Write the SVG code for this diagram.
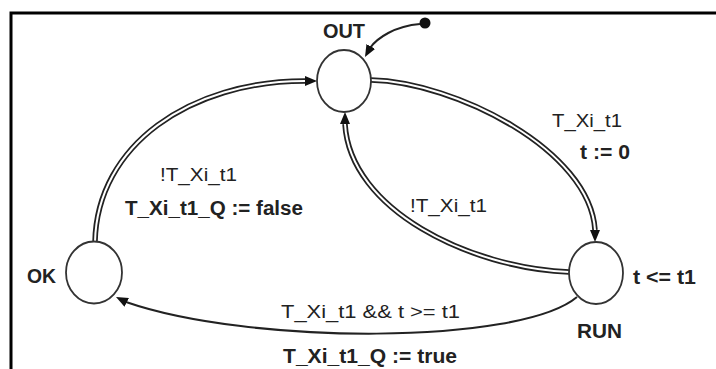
<svg xmlns="http://www.w3.org/2000/svg" width="716" height="369" viewBox="0 0 716 369">
<defs>
<marker id="arr" markerUnits="userSpaceOnUse" markerWidth="12" markerHeight="10" viewBox="0 0 12 10" refX="12" refY="5" orient="auto">
<path d="M0,0 L12,5 L0,10 z" fill="#111"/>
</marker>
<style>
.state{fill:#fff;stroke:#333;stroke-width:1.8}
.outer{fill:none;stroke:#222;stroke-width:5.5}
.inner{fill:none;stroke:#fff;stroke-width:2}
.single{fill:none;stroke:#222;stroke-width:2}
.tip{fill:none;stroke:none;marker-end:url(#arr)}
.lbl{font-family:"Liberation Sans",Arial,sans-serif;font-size:19px;fill:#222}
.b{font-weight:bold;font-size:20px}
</style>
</defs>
<rect width="716" height="369" fill="#fff"/>
<rect x="11" y="13" width="720" height="370" fill="none" stroke="#000" stroke-width="3"/>
<g id="connectors">
<g id="e-ok-out">
<path class="outer" d="M95 242 C97 145 190 81 305 81"/>
<path class="inner" d="M95 242 C97 145 190 81 305 81"/>
<path class="tip" d="M305 81 L317 81"/>
</g>
<g id="e-out-run">
<path class="outer" d="M371 80 C455 82 590 150 595 230"/>
<path class="inner" d="M371 80 C455 82 590 150 595 230"/>
<path class="tip" d="M595 230 L595 242"/>
</g>
<g id="e-run-out">
<path class="outer" d="M569 272 C470 268 350 210 345 124"/>
<path class="inner" d="M569 272 C470 268 350 210 345 124"/>
<path class="tip" d="M345 124 L345 112"/>
</g>
<g id="e-run-ok">
<path class="single" d="M577 297 C520 345 250 345 126 302"/>
<path class="tip" d="M126 302 L116 297"/>
</g>
<g id="e-init">
<circle cx="425" cy="23" r="5.5" fill="#111"/>
<path class="single" d="M420 24 C395 26 377 38 370 48"/>
<path class="tip" d="M370 48 L365 57"/>
</g>
</g>
<g id="node-out">
<ellipse class="state" cx="344" cy="81" rx="27" ry="31"/>
<text class="lbl b" x="323" y="38" textLength="42" lengthAdjust="spacingAndGlyphs">OUT</text>
</g>
<g id="node-run">
<ellipse class="state" cx="596" cy="273" rx="27" ry="31"/>
<text class="lbl b" x="577" y="338" textLength="45" lengthAdjust="spacingAndGlyphs">RUN</text>
<text class="lbl b" x="633" y="284" textLength="63" lengthAdjust="spacingAndGlyphs">t &lt;= t1</text>
</g>
<g id="node-ok">
<ellipse class="state" cx="94" cy="272.5" rx="28" ry="31"/>
<text class="lbl b" x="27" y="283" textLength="29" lengthAdjust="spacingAndGlyphs">OK</text>
</g>
<g id="labels">
<text class="lbl" x="552" y="127" textLength="70" lengthAdjust="spacingAndGlyphs">T_Xi_t1</text>
<text class="lbl b" x="580" y="159" textLength="50" lengthAdjust="spacingAndGlyphs">t := 0</text>
<text class="lbl" x="410" y="212" textLength="77" lengthAdjust="spacingAndGlyphs">!T_Xi_t1</text>
<text class="lbl" x="160" y="181" textLength="77" lengthAdjust="spacingAndGlyphs">!T_Xi_t1</text>
<text class="lbl b" x="125" y="215" textLength="178" lengthAdjust="spacingAndGlyphs">T_Xi_t1_Q := false</text>
<text class="lbl" x="281" y="318" textLength="179" lengthAdjust="spacingAndGlyphs">T_Xi_t1 &amp;&amp; t &gt;= t1</text>
<text class="lbl b" x="283" y="363" textLength="174" lengthAdjust="spacingAndGlyphs">T_Xi_t1_Q := true</text>
</g>
</svg>
